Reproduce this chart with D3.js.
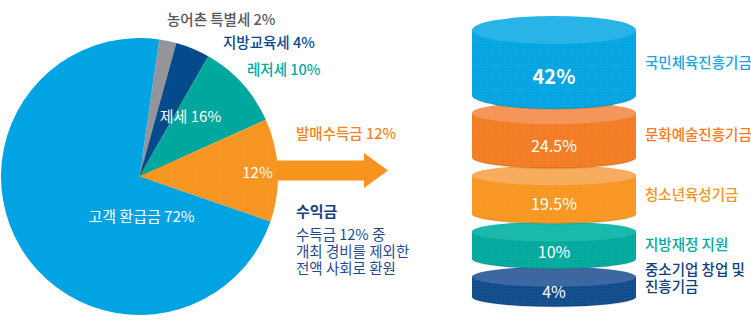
<!DOCTYPE html>
<html><head><meta charset="utf-8">
<script src="https://cdn.jsdelivr.net/npm/d3@7"></script>
<style>
html,body{margin:0;padding:0;background:#fff;}
svg{display:block;font-family:"Noto Sans CJK KR","Noto Sans",sans-serif;}
</style></head>
<body><svg id="chart" width="751" height="323"></svg>
<script>
// ---- data ----
const pieLabels = ["농어촌 특별세", "지방교육세", "레저세", "발매수득금", "고객 환급금"];
const pieValues = [2, 4, 10, 12, 72];
const pieColors = ["#939598", "#054b8c", "#00a79d", "#f7941e", "#02a3e2"];
const taxLabel = "제세";
const taxValue = 16;
const noteTitle = "수익금";
const noteLines = ["수득금 12% 중", "개최 경비를 제외한", "전액 사회로 환원"];

const fundNames = [["국민체육진흥기금"], ["문화예술진흥기금"], ["청소년육성기금"], ["지방재정 지원"], ["중소기업 창업 및", "진흥기금"]];
const fundValues = [42, 24.5, 19.5, 10, 4];
const fundSide = ["#03a4e2", "#f37b22", "#f8961f", "#00a99c", "#0f4b8b"];
const fundCap = ["#29b4e8", "#f4955a", "#f8ac5e", "#1bb8ad", "#3c67a1"];
const fundText = ["#1aa5e0", "#f47b20", "#f7941d", "#00a99d", "#0d3f7e"];

const svg = d3.select("#chart");
const defs = svg.append("defs");
const pat = defs.append("pattern").attr("id","dots").attr("width",3).attr("height",3).attr("patternUnits","userSpaceOnUse");
pat.append("circle").attr("cx",1).attr("cy",1).attr("r",0.6).attr("fill","#fff").attr("opacity",0.18);

// ---- pie ----
const cx = 139.5, cy = 176.5, R = 138.5;
const start = 8.2 * Math.PI / 180;
const pie = d3.pie().sort(null).value(d => d).startAngle(start).endAngle(start + 2 * Math.PI);
const arcs = pie(pieValues);
const arc = d3.arc().innerRadius(0).outerRadius(R);
const g = svg.append("g").attr("transform", `translate(${cx},${cy})`);

// arrow (behind pie)
const ax = d3.scaleLinear().domain([0, 1]).range([cx, 388]);
const arrowY = 170.5;
const arrowPts = [[ax(0), arrowY - 10], [364, arrowY - 10], [364, arrowY - 17.5], [ax(1), arrowY], [364, arrowY + 17.5], [364, arrowY + 10], [ax(0), arrowY + 10]];
svg.insert("path", "g").attr("d", d3.line()(arrowPts) + "Z").attr("fill", pieColors[3]);

g.selectAll("path.slice").data(arcs).join("path").attr("class","slice")
  .attr("d", arc).attr("fill", (d, i) => pieColors[i]);
g.append("path").attr("d", arc(arcs[3])).attr("fill", "url(#dots)");

// inner labels
const fmt = v => v + "%";
g.append("text").attr("x", 51).attr("y", -54.5).attr("text-anchor","middle").attr("fill","#fff")
  .attr("font-size", 15).text(taxLabel + " " + fmt(taxValue));
g.append("text").attr("x", 118).attr("y", 1.5).attr("text-anchor","middle").attr("fill","#fff")
  .attr("font-size", 15).text(fmt(pieValues[3]));
g.append("text").attr("x", 2).attr("y", 45.5).attr("text-anchor","middle").attr("fill","#fff")
  .attr("font-size", 15).text(pieLabels[4] + " " + fmt(pieValues[4]));

// outer labels
const outer = [
  {i: 0, x: 167, y: 25, c: "#58595b", w: 500},
  {i: 1, x: 223, y: 48, c: "#0a4a8c", w: 500},
  {i: 2, x: 247, y: 75, c: "#00a99d", w: 500},
  {i: 3, x: 296, y: 139, c: "#f58220", w: 500}
];
svg.selectAll("text.outer").data(outer).join("text").attr("class","outer")
  .attr("x", d => d.x).attr("y", d => d.y).attr("fill", d => d.c).attr("font-weight", d => d.w)
  .attr("font-size", 14.5).text(d => pieLabels[d.i] + " " + fmt(pieValues[d.i]));

svg.append("text").attr("x", 296).attr("y", 217).attr("fill", "#17417f").attr("font-weight", 700)
  .attr("font-size", 15).text(noteTitle);
svg.selectAll("text.note").data(noteLines).join("text").attr("class","note")
  .attr("x", 296).attr("y", (d, i) => 240 + i * 17).attr("fill", "#1f4b8e")
  .attr("font-size", 14.5).text(d => d);

// ---- cylinders ----
const hScale = d3.scaleLinear().domain([4, 42]).range([20, 65]);
const rxC = 82, cxC = 554, gap = 18, y0 = 30;
const ryArr = [14, 11, 10, 10, 10];
let yCur = y0;
const cyl = fundValues.map((v, i) => {
  const top = yCur, h = hScale(v), bot = top + h;
  yCur = bot + gap;
  return {v, i, top, bot, ry: ryArr[i]};
});
const cg = svg.append("g");
const items = cg.selectAll("g.cyl").data(cyl.slice().reverse()).join("g").attr("class","cyl");
const sidePath = d => `M${cxC - rxC},${d.top} L${cxC - rxC},${d.bot} A${rxC},${d.ry} 0 0 0 ${cxC + rxC},${d.bot} L${cxC + rxC},${d.top} Z`;
items.append("path").attr("d", sidePath).attr("fill", d => fundSide[d.i]);
items.append("path").attr("d", sidePath).attr("fill", "url(#dots)");
items.append("path").attr("d", d => `M${cxC - rxC},${d.bot} A${rxC},${d.ry} 0 0 0 ${cxC + rxC},${d.bot}`)
  .attr("fill","none").attr("stroke","rgba(0,0,0,0.08)").attr("stroke-width",2);
items.append("ellipse").attr("cx", cxC).attr("cy", d => d.top).attr("rx", rxC).attr("ry", d => d.ry)
  .attr("fill", d => fundCap[d.i]);
items.append("text").attr("x", cxC)
  .attr("y", d => (d.top + d.bot) / 2 + d.ry + (d.i === 4 ? -4 : 0) - (d.i === 3 ? 3 : 0))
  .attr("dy", "0.35em").attr("text-anchor","middle").attr("fill","#fff")
  .attr("font-size", d => d.i === 0 ? 20 : 16).attr("font-weight", d => d.i === 0 ? 700 : 400)
  .text(d => fmt(d.v));

// right labels
const lab = svg.selectAll("text.fund").data(cyl).join("text").attr("class","fund")
  .attr("x", 645).attr("fill", d => fundText[d.i]).attr("font-size", 14.5).attr("font-weight", 500);
lab.each(function(d) {
  const lines = fundNames[d.i];
  const mid = (d.top + d.bot) / 2 + (lines.length > 1 ? -8.5 : 0);
  const t = d3.select(this);
  lines.forEach((s, k) => {
    t.append("tspan").attr("x", 645).attr("y", mid - (lines.length - 1) * 8.5 + k * 17).attr("dy","0.35em").text(s);
  });
});
</script></body></html>
